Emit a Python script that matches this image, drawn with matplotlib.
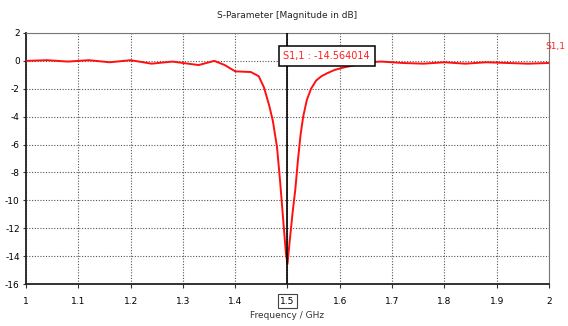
import matplotlib
matplotlib.use("Agg")
import matplotlib.pyplot as plt

freq = [1.00, 1.04, 1.08, 1.12, 1.16, 1.20, 1.24, 1.28, 1.33, 1.36, 1.38, 1.40, 1.43,
        1.445, 1.455, 1.465, 1.472, 1.48, 1.486, 1.492, 1.497, 1.500, 1.504, 1.510,
        1.515, 1.520, 1.525, 1.530, 1.537, 1.545, 1.555, 1.565, 1.575, 1.59, 1.61,
        1.63, 1.65, 1.68, 1.72, 1.76, 1.80, 1.84, 1.88, 1.92, 1.96, 2.00]
s11 = [0.0, 0.05, -0.05, 0.05, -0.1, 0.05, -0.2, -0.05, -0.3, 0.0, -0.3, -0.75, -0.8,
       -1.1, -1.9, -3.2, -4.3, -6.2, -8.7, -11.5, -13.8, -14.56, -13.0, -10.8,
       -9.2, -7.1, -5.3, -4.0, -2.8, -2.0, -1.4, -1.1, -0.9, -0.65, -0.45,
       -0.3, -0.1, -0.05, -0.15, -0.2, -0.1, -0.2, -0.1, -0.15, -0.2, -0.15]
xticks = [1.0, 1.1, 1.2, 1.3, 1.4, 1.5, 1.6, 1.7, 1.8, 1.9, 2.0]
xticklabels = ["1", "1.1", "1.2", "1.3", "1.4", "1.5", "1.6", "1.7", "1.8", "1.9", "2"]
yticks = [2, 0, -2, -4, -6, -8, -10, -12, -14, -16]
marker_x = 1.5
marker_label = "S1,1 : -14.564014"

plt.rcParams['font.family'] = ['Liberation Sans Narrow', 'DejaVu Sans']
plt.rcParams['axes.unicode_minus'] = False

fig = plt.figure(figsize=(5.68, 3.26), dpi=100)
ax = fig.add_axes([0.0458, 0.1288, 0.9207, 0.770])
ax.plot(freq, s11, color="#ff1010", lw=1.4, zorder=3)
ax.axvline(marker_x, color="black", lw=1.2, zorder=4)
ax.set_xlim(1.0, 2.0)
ax.set_ylim(-16, 2)
ax.set_xticks(xticks)
ax.set_xticklabels(xticklabels)
ax.set_yticks(yticks)
ax.tick_params(axis="x", labelsize=6.5, length=3, width=0.8, color="#333333", pad=6)
ax.tick_params(axis="y", labelsize=6.5, length=2.5, width=0.8, color="#333333", pad=2)
ax.grid(True, color="#555555", ls=(0, (1, 1.5)), lw=0.8)
for s in ["left", "bottom"]:
    ax.spines[s].set_linewidth(1.3)
    ax.spines[s].set_color("#222222")
for s in ["top", "right"]:
    ax.spines[s].set_linewidth(0.8)
    ax.spines[s].set_color("#777777")

for lbl in ax.get_xticklabels():
    if lbl.get_text() == "1.5":
        lbl.set_bbox(dict(facecolor="white", edgecolor="#444444", lw=0.8, pad=1.5))

ax.text(1.575, 0.35, marker_label, color="#ff2020", fontsize=7, ha="center", va="center",
        bbox=dict(facecolor="white", edgecolor="black", lw=1.1, boxstyle="square,pad=0.5"), zorder=5)

ax.set_title("S-Parameter [Magnitude in dB]", fontsize=6.5, color="#222222", pad=11)
ax.set_xlabel("Frequency / GHz", fontsize=6.5, color="#333333", labelpad=4)
fig.text(0.996, 0.856, "S1,1", color="#ff2020", fontsize=6.5, ha="right", va="center")

fig.savefig("out.png", dpi=100)
